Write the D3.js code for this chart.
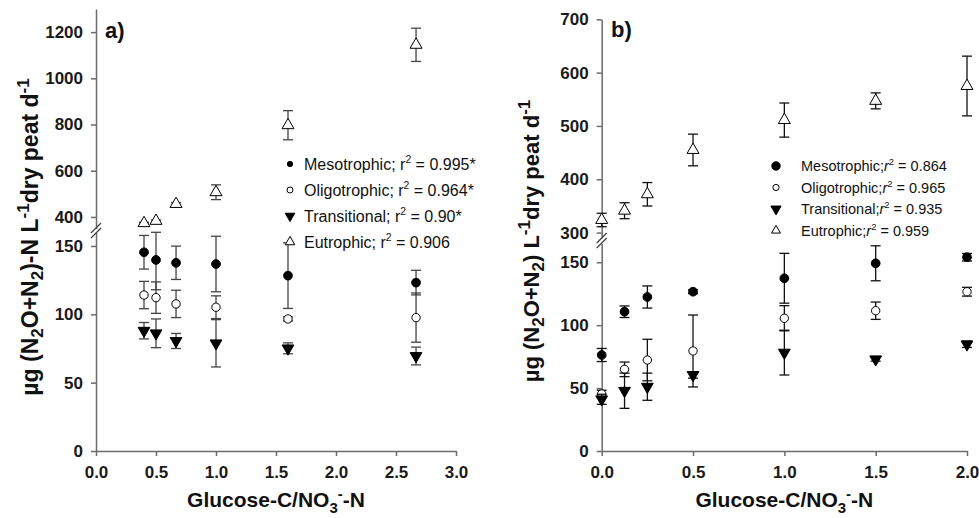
<!DOCTYPE html>
<html>
<head>
<meta charset="utf-8">
<script src="https://cdn.jsdelivr.net/npm/d3@7"></script>
<style>
  body { margin: 0; background: #fff; }
  svg { display: block; font-family: "Liberation Sans", Arial, sans-serif; }
  .axis path, .axis line { stroke: #6b6b6b; stroke-width: 1.5; }
  .axis text { font-size: 17px; font-weight: bold; fill: #1a1a1a; font-family: "Liberation Sans", Arial, sans-serif; }
</style>
</head>
<body>
<script>
// panel a: glucose-C / nitrate-N ratios and rates (ug N L-1 dry peat d-1)
const ratiosA = [0.4, 0.5, 0.667, 1.0, 1.6, 2.667];
const mesoA = [145.4, 139.8, 137.7, 136.8, 128.3, 123.2];
const mesoErrA = [12.3, 21.8, 12.2, 20.3, 24, 9];
const oligoA = [114.1, 112.2, 107.6, 105.2, 96.6, 97.6];
const oligoErrA = [10, 11.5, 10, 8.3, 1.5, 18];
const transA = [88, 86.1, 80.5, 78.8, 75.1, 69.5];
const transErrA = [6, 10.5, 5.5, 17.3, 4, 6.5];
const eutroA = [373, 383, 456, 507, 797, 1145];
const eutroErrA = [4, 4, 6, 32, 63, 72];

// panel b
const ratiosB = [0, 0.125, 0.25, 0.5, 1.0, 1.5, 2.0];
const mesoB = [76.3, 110.7, 122.4, 126.6, 137.3, 149.2, 154];
const mesoErrB = [5.2, 4.6, 8.8, 1.5, 19.8, 13.9, 3];
const oligoB = [45.3, 64.9, 72.3, 79.5, 105.5, 111.5, 126.6];
const oligoErrB = [3, 5.8, 16.5, 28.6, 10, 6.9, 3.5];
const transB = [41.1, 47.9, 51.1, 60.4, 78.2, 72.9, 84.8];
const transErrB = [4, 14, 10.8, 2.5, 17.8, 1.5, 2.5];
const eutroB = [323.6, 341, 371.8, 454.9, 511, 547, 574.9];
const eutroErrB = [12.6, 15, 22, 29.7, 32, 15, 56];

const legendA = ["Mesotrophic; r|2| = 0.995*", "Oligotrophic; r|2| = 0.964*", "Transitional; r|2| = 0.90*", "Eutrophic; r|2| = 0.906"];
const legendB = ["Mesotrophic;r|2| = 0.864", "Oligotrophic;r|2| = 0.965", "Transitional;r|2| = 0.935", "Eutrophic;r|2| = 0.959"];

const xTicksA = [0, 0.5, 1, 1.5, 2, 2.5, 3];
const xTicksB = [0, 0.5, 1, 1.5, 2];
const lowTicks = [0, 50, 100, 150];
const highTicksA = [400, 600, 800, 1000, 1200];
const highTicksB = [300, 400, 500, 600, 700];

const W = 979, H = 518;
const svg = d3.select("body").append("svg").attr("width", W).attr("height", H);

const marker = {
  meso: { type: d3.symbolCircle, fill: "#000", size: 60 },
  oligo: { type: d3.symbolCircle, fill: "#fff", size: 55 },
  trans: { type: d3.symbolTriangle, fill: "#000", size: 60, rot: 180 },
  eutro: { type: d3.symbolTriangle, fill: "#fff", size: 62 }
};

function drawPanel(p) {
  const g = svg.append("g");
  const x = d3.scaleLinear().domain(p.xDomain).range(p.xRange);
  const yLow = d3.scaleLinear().domain(p.lowDomain).range(p.lowRange).clamp(true);
  const yHigh = d3.scaleLinear().domain(p.highDomain).range(p.highRange);

  g.append("g").attr("class", "axis")
    .attr("transform", `translate(0,${p.lowRange[0]})`)
    .call(d3.axisBottom(x).tickValues(p.xTicks).tickFormat(d3.format(".1f"))
      .tickSizeInner(5).tickSizeOuter(0).tickPadding(10));

  g.append("g").attr("class", "axis")
    .attr("transform", `translate(${p.xRange[0]},0)`)
    .call(d3.axisLeft(yLow).tickValues(lowTicks).tickFormat(d3.format("d"))
      .tickSizeInner(5).tickSizeOuter(0).tickPadding(8));

  g.append("g").attr("class", "axis")
    .attr("transform", `translate(${p.xRange[0]},0)`)
    .call(d3.axisLeft(yHigh).tickValues(p.highTicks).tickFormat(d3.format("d"))
      .tickSizeInner(5).tickSizeOuter(0).tickPadding(8));

  // break marks
  const bx = p.xRange[0];
  [p.breakY - 2.5, p.breakY + 2.5].forEach(by => {
    g.append("line").attr("x1", bx - 5).attr("y1", by + 5).attr("x2", bx + 5).attr("y2", by - 5)
      .attr("stroke", "#444").attr("stroke-width", 1.3);
  });

  // series
  p.series.forEach(s => {
    const yS = s.high ? yHigh : yLow;
    s.vals.forEach((v, i) => {
      const cx = x(p.ratios[i]);
      const y1 = yS(v - s.errs[i]), y2 = yS(v + s.errs[i]);
      g.append("line").attr("x1", cx).attr("x2", cx).attr("y1", y1).attr("y2", y2)
        .attr("stroke", p.errColor).attr("stroke-width", 1.3);
      [y1, y2].forEach(yy => g.append("line")
        .attr("x1", cx - 5).attr("x2", cx + 5).attr("y1", yy).attr("y2", yy)
        .attr("stroke", p.errColor).attr("stroke-width", 1.3));
    });
    const m = marker[s.key];
    g.selectAll(null).data(s.vals).join("path")
      .attr("d", d3.symbol().type(m.type).size(m.size))
      .attr("transform", (v, i) => `translate(${x(p.ratios[i])},${yS(v)})` + (m.rot ? ` rotate(${m.rot})` : ""))
      .attr("fill", m.fill).attr("stroke", "#000").attr("stroke-width", 1);
  });

  // legend
  const keys = ["meso", "oligo", "trans", "eutro"];
  p.legend.forEach((lab, i) => {
    const ly = p.legY + i * p.legStep;
    const m = marker[keys[i]];
    g.append("path")
      .attr("d", d3.symbol().type(m.type).size(p.legSize[i]))
      .attr("transform", `translate(${p.legX},${ly})` + (m.rot ? ` rotate(${m.rot})` : ""))
      .attr("fill", m.fill).attr("stroke", "#000").attr("stroke-width", 1);
    const parts = lab.split("|");
    const t = g.append("text").attr("x", p.legTextX).attr("y", ly + p.legFont * 0.36)
      .attr("font-size", p.legFont).attr("fill", "#111");
    t.append("tspan").text(parts[0].slice(0, -1));
    t.append("tspan").text("r").attr("font-style", p.italicR ? "italic" : "normal");
    t.append("tspan").text(parts[1]).attr("font-size", p.legFont * 0.65).attr("dy", -p.legFont * 0.4);
    t.append("tspan").text(parts[2]).attr("dy", p.legFont * 0.4);
  });

  // panel letter
  g.append("text").attr("x", p.letterX).attr("y", p.letterY)
    .attr("font-size", 22).attr("font-weight", "bold").attr("fill", "#111").text(p.letter);

  // x title
  const xt = g.append("text")
    .attr("x", (p.xRange[0] + p.xRange[1]) / 2).attr("y", 507)
    .attr("text-anchor", "middle").attr("font-size", 21).attr("font-weight", "bold").attr("fill", "#111");
  xt.append("tspan").text("Glucose-C/NO");
  xt.append("tspan").text("3").attr("font-size", 15).attr("dy", 6);
  xt.append("tspan").text("-").attr("font-size", 15).attr("dy", -14);
  xt.append("tspan").text("-N").attr("dy", 8);

  // y title
  const fs = p.yTitleFont, sfs = Math.round(fs * 0.75);
  const yt = g.append("text")
    .attr("transform", `translate(${p.yTitleX},${p.yTitleY}) rotate(-90)`)
    .attr("text-anchor", "middle").attr("font-size", fs).attr("font-weight", "bold").attr("fill", "#111");
  yt.append("tspan").text("µg (N");
  yt.append("tspan").text("2").attr("font-size", sfs).attr("dy", 5);
  yt.append("tspan").text("O+N").attr("dy", -5);
  yt.append("tspan").text("2").attr("font-size", sfs).attr("dy", 5);
  yt.append("tspan").text(p.yUnit).attr("dy", -5);
  yt.append("tspan").text("-1").attr("font-size", sfs).attr("dy", -9);
  yt.append("tspan").text("dry peat d").attr("dy", 9);
  yt.append("tspan").text("-1").attr("font-size", sfs).attr("dy", -9);
}

drawPanel({
  xDomain: [0, 3], xRange: [96, 456], xTicks: xTicksA,
  lowDomain: [0, 160], lowRange: [451, 232.3],
  highDomain: [350, 1300], highRange: [228.5, 9], highTicks: highTicksA,
  breakY: 230.5, ratios: ratiosA, errColor: "#444",
  series: [
    { key: "meso", vals: mesoA, errs: mesoErrA },
    { key: "oligo", vals: oligoA, errs: oligoErrA },
    { key: "trans", vals: transA, errs: transErrA },
    { key: "eutro", vals: eutroA, errs: eutroErrA, high: true }
  ],
  legend: legendA, legX: 290, legTextX: 304, legY: 164, legStep: 26, legFont: 16,
  legSize: [22, 28, 40, 40], italicR: false,
  letter: "a)", letterX: 105, letterY: 38,
  yTitleX: 38, yTitleY: 237, yUnit: ")-N L", yTitleFont: 23
});

drawPanel({
  xDomain: [0, 2], xRange: [601.7, 967], xTicks: xTicksB,
  lowDomain: [0, 165], lowRange: [451, 243.4],
  highDomain: [290, 700], highRange: [237.9, 19.3], highTicks: highTicksB,
  breakY: 240.5, ratios: ratiosB, errColor: "#111",
  series: [
    { key: "meso", vals: mesoB, errs: mesoErrB },
    { key: "oligo", vals: oligoB, errs: oligoErrB },
    { key: "trans", vals: transB, errs: transErrB },
    { key: "eutro", vals: eutroB, errs: eutroErrB, high: true }
  ],
  legend: legendB, legX: 776, legTextX: 801, legY: 166, legStep: 21.5, legFont: 14.5,
  legSize: [55, 30, 45, 35], italicR: true,
  letter: "b)", letterX: 611, letterY: 37,
  yTitleX: 539, yTitleY: 241, yUnit: ") L", yTitleFont: 22
});
</script>
</body>
</html>
